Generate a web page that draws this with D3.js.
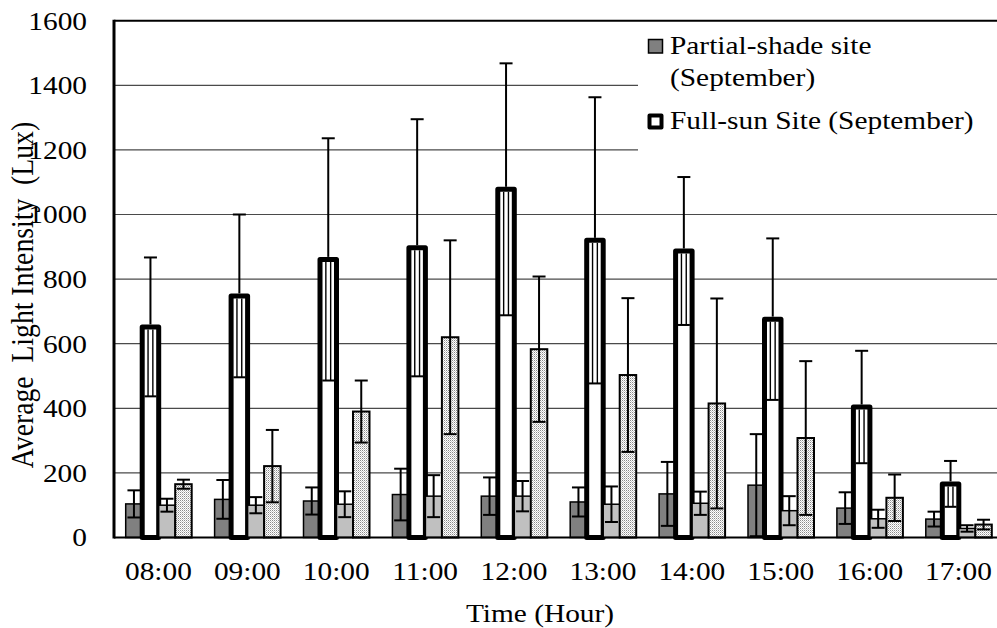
<!DOCTYPE html>
<html>
<head>
<meta charset="utf-8">
<script src="https://cdn.jsdelivr.net/npm/d3@7"></script>
<style>
  html, body { margin: 0; padding: 0; background: #fff; }
  svg { display: block; }
  text { font-family: "Liberation Serif", "Times New Roman", Times, serif; fill: #000; white-space: pre; }
</style>
</head>
<body>
<svg id="chart" width="997" height="628"></svg>
<script>
const hours = ["08:00","09:00","10:00","11:00","12:00","13:00","14:00","15:00","16:00","17:00"];
const partialShadeSep    = [104, 118, 113, 133, 128, 110, 135, 162,  91,  57];
const partialShadeSepErr = [ 42,  60,  42,  80,  58,  45,  99, 158,  49,  23];
const fullSunSep         = [652, 748, 861, 897,1078, 920, 887, 676, 404, 166];
const fullSunSepErr      = [215, 252, 375, 398, 390, 443, 229, 250, 174,  71];
const partialShadeOther    = [100, 100, 103, 128, 128, 103, 106,  83,  58,  28];
const partialShadeOtherErr = [ 20,  25,  40,  65,  47,  55,  36,  45,  28,  10];
const fullSunOther         = [165, 221, 390, 620, 583, 503, 415, 308, 123,  40];
const fullSunOtherErr      = [ 14, 112,  96, 300, 225, 238, 325, 238,  72,  15];
const yTicks = [0, 200, 400, 600, 800, 1000, 1200, 1400, 1600];
const legendItems = [
  { lines: ["Partial-shade site", "(September)"], key: "ps" },
  { lines: ["Full-sun Site (September)"], key: "fs" }
];

const svg = d3.select("#chart");
const FS = 26, SX = 1.13;

const x = d3.scaleBand().domain(hours).range([114, 1003]).padding(0);
const y = d3.scaleLinear().domain([0, 1600]).range([537.5, 20.7]);

// pattern for dotted bars
const defs = svg.append("defs");
const pat = defs.append("pattern").attr("id", "dots").attr("width", 2).attr("height", 2)
  .attr("patternUnits", "userSpaceOnUse");
pat.append("rect").attr("width", 2).attr("height", 2).attr("fill", "#ffffff");
pat.append("rect").attr("x", 0).attr("y", 0).attr("width", 1).attr("height", 1).attr("fill", "#8a8a8a");
pat.append("rect").attr("x", 1).attr("y", 1).attr("width", 1).attr("height", 1).attr("fill", "#c8c8c8");

// gridlines
svg.append("g").selectAll("line").data(yTicks.filter(d => d > 0 && d < 1600)).join("line")
  .attr("x1", 114).attr("x2", 1003)
  .attr("y1", d => y(d)).attr("y2", d => y(d))
  .attr("stroke", "#4a4a4a").attr("stroke-width", 1.2);

// y tick labels
svg.append("g").selectAll("text").data(yTicks).join("text")
  .attr("transform", d => `translate(87,${y(d)}) scale(${SX},1)`)
  .attr("text-anchor", "end").attr("dominant-baseline", "central")
  .attr("font-size", FS).text(d => d);

// x labels
svg.append("g").selectAll("text").data(hours).join("text")
  .attr("transform", d => `translate(${x(d) + x.bandwidth() / 2},580) scale(${SX},1)`)
  .attr("text-anchor", "middle").attr("font-size", FS).text(d => d);

// axis titles
svg.append("text").attr("transform", `translate(540,621.5) scale(${SX},1)`)
  .attr("text-anchor", "middle").attr("font-size", FS).text("Time (Hour)");
svg.append("text").attr("transform", `translate(33,295) rotate(-90) scale(1,${SX})`)
  .attr("text-anchor", "middle").attr("font-size", 27.7).text("Average  Light Intensity  (Lux)");

// bars
const bw = 16.5, off = 11.7;
const series = [
  { vals: partialShadeSep, errs: partialShadeSepErr, fill: "#808080", stroke: "#000", sw: 1.5, dbl: false },
  { vals: fullSunSep, errs: fullSunSepErr, fill: "#ffffff", stroke: "#000", sw: 5, dbl: true },
  { vals: partialShadeOther, errs: partialShadeOtherErr, fill: "#c0c0c0", stroke: "#000", sw: 1.5, dbl: false },
  { vals: fullSunOther, errs: fullSunOtherErr, fill: "url(#dots)", stroke: "#000", sw: 2, dbl: false }
];
const gBars = svg.append("g");
series.forEach((s, si) => {
  const data = hours.map((h, i) => ({ h, v: s.vals[i], e: s.errs[i] }));
  gBars.append("g").selectAll("rect").data(data).join("rect")
    .attr("x", d => x(d.h) + off + si * bw)
    .attr("y", d => y(d.v))
    .attr("width", bw)
    .attr("height", d => y(0) - y(d.v))
    .attr("fill", s.fill).attr("stroke", s.stroke).attr("stroke-width", s.sw)
    .attr("stroke-linejoin", s.dbl ? "round" : "miter");
});
// error bars
series.forEach((s, si) => {
  const data = hours.map((h, i) => ({ h, v: s.vals[i], e: s.errs[i], cx: x(h) + off + si * bw + bw / 2 }));
  const g = svg.append("g").attr("stroke", "#000").attr("stroke-width", 2).attr("fill", "none");
  const lo = d => y(Math.max(0, d.v - d.e));
  if (s.dbl) {
    g.selectAll("line.v").data(data).join("line").attr("class", "v")
      .attr("x1", d => d.cx).attr("x2", d => d.cx)
      .attr("y1", d => y(d.v + d.e)).attr("y2", d => y(d.v) - 2.5);
    [-2.4, 2.4].forEach((dx, k) => {
      g.selectAll("line.d" + k).data(data).join("line").attr("class", "d" + k)
        .attr("stroke-width", 1.4)
        .attr("x1", d => d.cx + dx).attr("x2", d => d.cx + dx)
        .attr("y1", d => y(d.v) + 2.5).attr("y2", lo);
    });
    g.selectAll("line.b").data(data).join("line").attr("class", "b")
      .attr("x1", d => d.cx - 6).attr("x2", d => d.cx + 6)
      .attr("y1", lo).attr("y2", lo);
  } else {
    g.selectAll("line.v").data(data).join("line").attr("class", "v")
      .attr("x1", d => d.cx).attr("x2", d => d.cx)
      .attr("y1", d => y(d.v + d.e)).attr("y2", lo);
    g.selectAll("line.b").data(data).join("line").attr("class", "b")
      .attr("x1", d => d.cx - 6.5).attr("x2", d => d.cx + 6.5)
      .attr("y1", lo).attr("y2", lo);
  }
  g.selectAll("line.t").data(data).join("line").attr("class", "t")
    .attr("x1", d => d.cx - 6.5).attr("x2", d => d.cx + 6.5)
    .attr("y1", d => y(d.v + d.e)).attr("y2", d => y(d.v + d.e));
});

// axes lines
svg.append("line").attr("x1", 114).attr("x2", 1003).attr("y1", y(0)).attr("y2", y(0))
  .attr("stroke", "#000").attr("stroke-width", 2);
svg.append("line").attr("x1", 114).attr("x2", 1003).attr("y1", y(1600)).attr("y2", y(1600))
  .attr("stroke", "#000").attr("stroke-width", 2);
svg.append("line").attr("x1", 114).attr("x2", 114).attr("y1", y(1600) - 1).attr("y2", y(0) + 1)
  .attr("stroke", "#000").attr("stroke-width", 3);

// legend
const lg = svg.append("g");
lg.append("rect").attr("x", 638).attr("y", 22).attr("width", 370).attr("height", 140).attr("fill", "#fff");
lg.append("rect").attr("x", 648.5).attr("y", 39.5).attr("width", 14).attr("height", 13.5)
  .attr("fill", "#808080").attr("stroke", "#000").attr("stroke-width", 1.5);
lg.append("rect").attr("x", 649.5).attr("y", 115.5).attr("width", 12).attr("height", 12)
  .attr("fill", "#fff").attr("stroke", "#000").attr("stroke-width", 4).attr("stroke-linejoin", "round");
const legY = [[53.5, 86], [128.5]];
legendItems.forEach((it, i) => {
  it.lines.forEach((ln, j) => {
    lg.append("text").attr("transform", `translate(670,${legY[i][j]}) scale(${SX},1)`)
      .attr("font-size", FS).text(ln);
  });
});
</script>
</body>
</html>
